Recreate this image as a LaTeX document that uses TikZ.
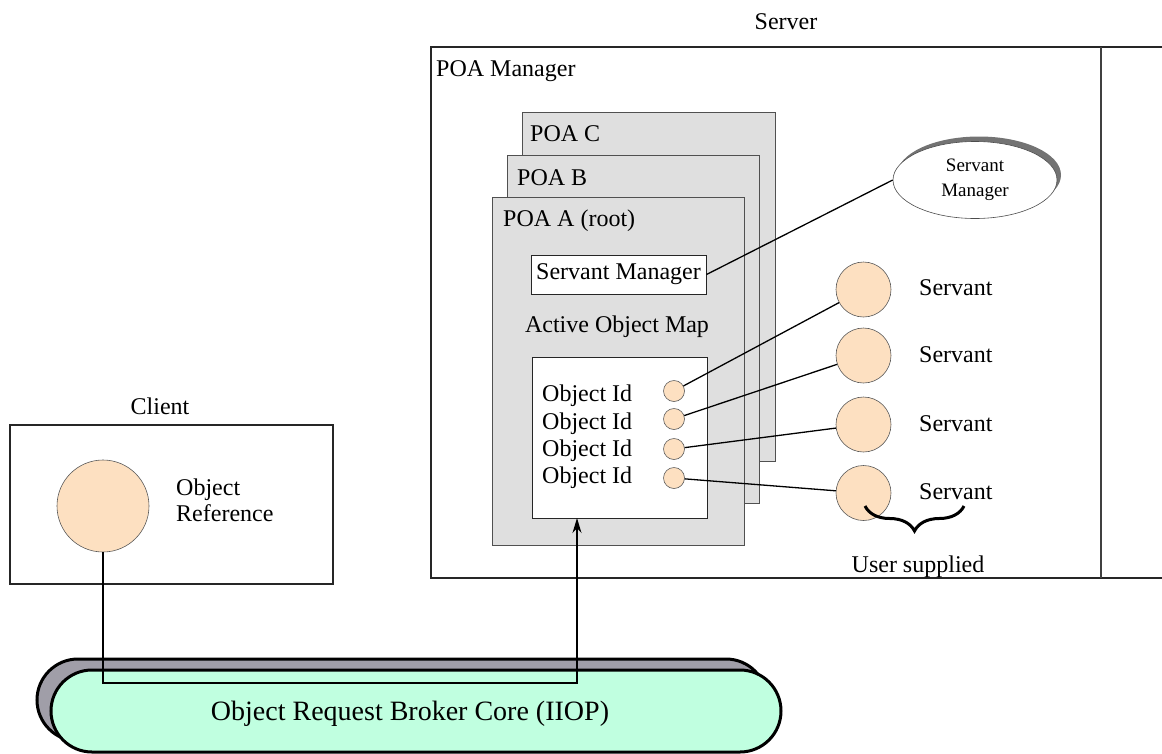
\documentclass[tikz,border=0pt]{standalone}
\usepackage{fontspec}
\setmainfont{Liberation Serif}
\usetikzlibrary{arrows.meta,decorations.pathreplacing,shapes.geometric}

\definecolor{peach}{RGB}{253,224,193}
\definecolor{poagrey}{RGB}{223,223,223}
\definecolor{orbgreen}{RGB}{192,255,224}
\definecolor{orbshade}{RGB}{160,158,168}
\definecolor{rim}{RGB}{80,80,80}

\tikzset{
  lbl/.style={font=\fontsize{24}{26}\selectfont, inner sep=0pt},
  poa/.style={draw=rim, fill=poagrey, line width=1pt, minimum width=252pt,
              minimum height=348pt, inner sep=0pt},
  whitebox/.style={draw=black!85, fill=white, line width=1pt, inner sep=0pt},
  oid/.style={circle, draw=black!65, fill=peach, line width=0.6pt,
              minimum size=21pt, inner sep=0pt},
  servant/.style={circle, draw=black!65, fill=peach, line width=0.6pt,
                  minimum size=55pt, inner sep=0pt},
  link/.style={line width=1.3pt},
  frame/.style={line width=1.2pt, draw=black!85},
  orb/.style={rectangle, rounded corners=41pt, line width=3pt, draw=black,
              minimum width=730pt, minimum height=82pt, inner sep=0pt},
}

\begin{document}
\begin{tikzpicture}[x=1pt,y=-1pt]
\useasboundingbox (0,0) rectangle (1162,753);

% ---------------- Server side ----------------
\node[lbl] (serverlbl) at (786,22) {Server};
\draw[frame] (1163,47) -- (431,47) -- (431,578) -- (1163,578);
\draw[line width=2.2pt, draw=black!75] (1101,47) -- (1101,578);
\node[lbl, anchor=west] (poamgr) at (436,71) {POA Manager};

% stacked POAs
\node[poa, minimum width=253pt, minimum height=349pt] (poac) at (648.5,286.5) {};
\node[lbl, anchor=west] (poaclbl) at (530,134) {POA C};
\node[poa] (poab) at (633,329) {};
\node[lbl, anchor=west] (poablbl) at (517,178) {POA B};
\node[poa] (poaa) at (618,371) {};
\node[lbl, anchor=west] (poaalbl) at (503,221) {POA A (root)};

% servant manager inside the root POA
\node[whitebox, lbl, draw=black!85, fill=white, line width=1pt,
      minimum width=175pt, minimum height=39pt] (smbox) at (618.5,274.5) {Servant Manager};

% active object map
\node[lbl] (aomlbl) at (617,327) {Active Object Map};
\node[whitebox, minimum width=175pt, minimum height=161pt] (map) at (619.5,437.5) {};
\node[lbl, anchor=west] (id1) at (542,396) {Object Id};
\node[lbl, anchor=west] (id2) at (542,424) {Object Id};
\node[lbl, anchor=west] (id3) at (542,451) {Object Id};
\node[lbl, anchor=west] (id4) at (542,478) {Object Id};
\node[oid] (o1) at (674,391) {};
\node[oid] (o2) at (674,419) {};
\node[oid] (o3) at (674,449) {};
\node[oid] (o4) at (674,478) {};

% servants
\node[servant] (s1) at (863.5,289.5) {};
\node[servant] (s2) at (863.5,355.5) {};
\node[servant] (s3) at (863.5,424.5) {};
\node[servant] (s4) at (863.5,493) {};
\node[lbl, anchor=west] (s1lbl) at (919,288) {Servant};
\node[lbl, anchor=west] (s2lbl) at (919,355) {Servant};
\node[lbl, anchor=west] (s3lbl) at (919,424) {Servant};
\node[lbl, anchor=west] (s4lbl) at (919,492) {Servant};

% user supplied brace
\draw[line width=3pt, decorate, decoration={brace, amplitude=25pt}]
  (964,506) -- (865,506);
\node[lbl] (userlbl) at (918,567) {User supplied};

% servant manager (external) with shadow
\fill[black!55] (979,175) ellipse [x radius=82, y radius=38.5];
\node[ellipse, draw=black!70, fill=white, line width=0.6pt, minimum width=164pt,
      minimum height=77pt, inner sep=0pt, align=center,
      font=\fontsize{19}{25}\selectfont] (smell) at (975,180)
      {Servant\\Manager};

% links
\draw[link] (smbox.east) -- (smell.west);
\draw[link] (o1) -- (s1);
\draw[link] (o2) -- (s2);
\draw[link] (o3) -- (s3);
\draw[link] (o4) -- (s4);

% ---------------- Client side ----------------
\node[lbl] (clientlbl) at (160,406) {Client};
\draw[frame] (10,425) rectangle (333,584);
\node[circle, draw=black!65, fill=peach, line width=0.6pt, minimum size=92pt,
      inner sep=0pt] (objref) at (103,506) {};
\node[lbl, anchor=west, align=left] (objreflbl) at (176,500) {Object\\Reference};

% ---------------- ORB ----------------
\node[orb, fill=orbshade] (orbback) at (402,700) {};
\node[orb, fill=orbgreen] (orbfront) at (416,711) {};
\node[font=\fontsize{28}{30}\selectfont, inner sep=0pt] (orblbl) at (410,714)
  {Object Request Broker Core (IIOP)};

% request path through the ORB
\coordinate (busrow) at (0,683);
\coordinate (mapin) at (577,518);
\draw[link, -{Stealth[length=15pt, width=9pt]}]
  (objref.south) -- (objref.south |- busrow) -| (mapin);
\end{tikzpicture}
\end{document}
